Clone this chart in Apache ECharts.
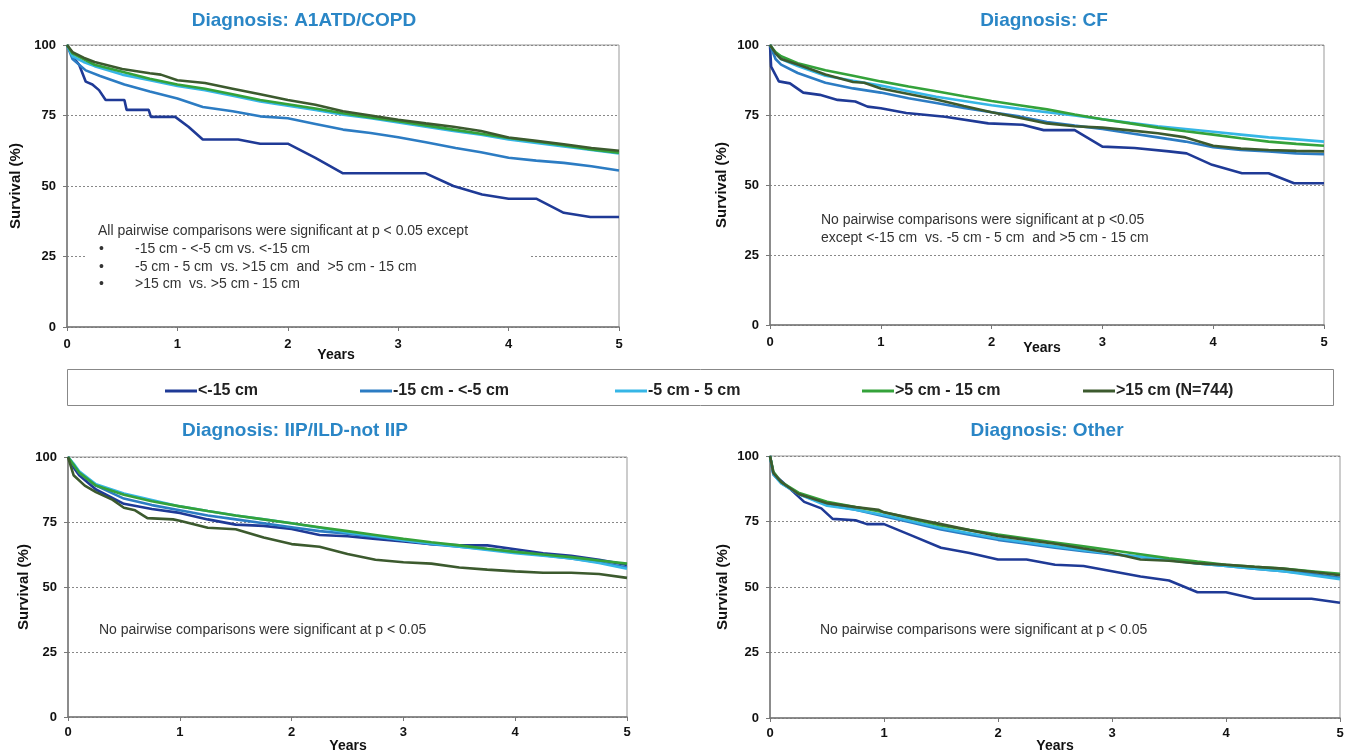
<!DOCTYPE html>
<html>
<head>
<meta charset="utf-8">
<script src="https://cdn.jsdelivr.net/npm/echarts@6/dist/echarts.min.js"></script>
<style>
  html, body { margin: 0; padding: 0; background: #fff; }
  #chart { width: 1353px; height: 756px; }
</style>
</head>
<body>
<div id="chart"></div>
<script>
// group names (legend order)
const groups = ['<-15 cm', '-15 cm - <-5 cm', '-5 cm - 5 cm', '>5 cm - 15 cm', '>15 cm (N=744)'];
const colors = ['#1f3a96', '#2c7cc3', '#36b6e6', '#34a23a', '#3c5a2e'];
const panelTitles = ['Diagnosis: A1ATD/COPD', 'Diagnosis: CF', 'Diagnosis: IIP/ILD-not IIP', 'Diagnosis: Other'];

// survival (%) by years
// A1ATD/COPD
const copdLt15 = [[0,100],[0.05,96],[0.11,93],[0.17,87],[0.23,86],[0.29,84],[0.35,80.5],[0.52,80.5],[0.54,77],[0.74,77],[0.76,74.5],[0.98,74.5],[1.1,71],[1.23,66.5],[1.55,66.5],[1.75,65],[2.0,65],[2.25,60],[2.5,54.5],[3.25,54.5],[3.5,50],[3.76,47],[4.0,45.5],[4.25,45.5],[4.5,40.5],[4.74,39],[5,39]];
const copdLt5 = [[0,100],[0.05,95],[0.17,91],[0.3,89],[0.52,86],[0.75,83.5],[1.0,81],[1.23,78],[1.5,76.5],[1.75,74.7],[2.0,74],[2.25,72],[2.5,70],[2.75,68.8],[3.0,67.3],[3.25,65.5],[3.52,63.5],[3.75,62],[4.0,60],[4.25,59],[4.5,58.2],[4.75,57],[5.0,55.5]];
const copdMid = [[0,100],[0.05,96],[0.15,94],[0.25,92.5],[0.5,89.5],[0.75,87.5],[1.0,85.5],[1.25,84],[1.5,82],[1.75,80],[2.0,78.5],[2.25,77],[2.5,75.3],[2.75,74],[3.0,72.5],[3.25,71],[3.5,69.5],[3.75,68.2],[4.0,66.5],[4.25,65.3],[4.5,64],[4.75,62.8],[5.0,61.5]];
const copdGt5 = [[0,100],[0.05,97],[0.15,95],[0.25,93],[0.5,90.5],[0.75,88],[1.0,86],[1.25,84.5],[1.5,82.5],[1.75,80.5],[2.0,79],[2.25,77.5],[2.5,75.8],[2.75,74.3],[3.0,73],[3.25,71.5],[3.5,70],[3.75,68.5],[4.0,67],[4.25,65.8],[4.5,64.5],[4.75,63],[5.0,61.8]];
const copdGt15 = [[0,100],[0.05,97.5],[0.15,95.5],[0.25,94],[0.5,91.5],[0.75,90],[0.85,89.5],[1.0,87.5],[1.25,86.5],[1.5,84.5],[1.75,82.5],[2.0,80.5],[2.25,78.8],[2.5,76.5],[2.75,75],[3.0,73.5],[3.25,72.2],[3.5,71],[3.75,69.5],[4.0,67.2],[4.25,66],[4.5,64.8],[4.75,63.5],[5.0,62.5]];

// CF
const cfLt15 = [[0,100],[0.01,92.3],[0.08,87],[0.18,86.3],[0.3,83],[0.45,82.2],[0.61,80.4],[0.77,79.8],[0.88,78],[1.0,77.4],[1.23,75.7],[1.58,74.4],[1.97,72],[2.28,71.5],[2.47,69.6],[2.75,69.6],[3.0,63.7],[3.29,63.2],[3.6,62],[3.76,61.3],[3.99,57.2],[4.26,54.2],[4.5,54.2],[4.73,50.6],[5,50.6]];
const cfLt5 = [[0,100],[0.05,95],[0.1,93],[0.25,90],[0.5,86.5],[0.75,84.5],[1.0,83],[1.25,81],[1.5,79.3],[1.75,77.5],[2.0,76],[2.25,74.5],[2.5,72.5],[2.75,71.2],[3.0,70],[3.25,68.5],[3.5,67],[3.75,65.5],[4.0,63.5],[4.25,62.5],[4.5,62],[4.75,61.3],[5.0,61]];
const cfMid = [[0,100],[0.05,97],[0.1,95],[0.25,92.5],[0.5,89],[0.75,87.2],[1.0,85.5],[1.25,83.5],[1.5,81.5],[1.75,80],[2.0,78.5],[2.25,77.2],[2.5,76],[2.75,74.8],[3.0,73.5],[3.25,72.2],[3.5,71],[3.75,70],[4.0,69],[4.25,68],[4.5,67],[4.75,66.3],[5.0,65.5]];
const cfGt5 = [[0,100],[0.05,97.5],[0.1,96],[0.25,93.5],[0.5,91],[0.75,89],[1.0,87],[1.25,85.2],[1.5,83.5],[1.75,81.7],[2.0,80],[2.25,78.5],[2.5,77],[2.75,75.2],[3.0,73.5],[3.25,72],[3.5,70.5],[3.75,69.2],[4.0,68],[4.25,66.7],[4.5,65.5],[4.75,64.7],[5.0,64]];
const cfGt15 = [[0,100],[0.05,97],[0.1,95],[0.25,93],[0.5,89.5],[0.75,86.8],[0.85,86.5],[1.0,84.5],[1.25,82.5],[1.5,80.5],[1.75,78.2],[2.0,76],[2.25,74],[2.5,72],[2.75,71],[3.0,70.5],[3.25,69.5],[3.5,68.5],[3.75,67],[4.0,64],[4.25,63],[4.5,62.5],[4.75,62.2],[5.0,62]];

// IIP/ILD-not IIP
const iipLt15 = [[0,100],[0.05,96],[0.1,93],[0.25,87.5],[0.5,82],[0.75,80],[1.0,78.5],[1.25,76],[1.5,74],[1.75,73.5],[2.0,72.3],[2.25,70],[2.5,69.5],[2.75,68.5],[3.0,67.5],[3.25,66.5],[3.5,66],[3.75,66],[4.0,64.5],[4.25,63],[4.5,62],[4.75,60.5],[5.0,58.5]];
const iipLt5 = [[0,100],[0.05,97],[0.1,94],[0.25,89],[0.5,84],[0.75,81.5],[1.0,79.5],[1.25,77.5],[1.5,76],[1.75,74.5],[2.0,73],[2.25,71.5],[2.5,70.5],[2.75,69.2],[3.0,68],[3.25,66.5],[3.5,65.5],[3.75,64.5],[4.0,63.5],[4.25,62.2],[4.5,61],[4.75,59.5],[5.0,57.5]];
const iipMid = [[0,100],[0.05,97.5],[0.1,94.5],[0.25,89.5],[0.5,86],[0.75,83.5],[1.0,81],[1.25,79.2],[1.5,77.5],[1.75,76],[2.0,74.5],[2.25,72.8],[2.5,71],[2.75,69.5],[3.0,68],[3.25,66.7],[3.5,65.5],[3.75,64.2],[4.0,63],[4.25,62],[4.5,61],[4.75,59.2],[5.0,57]];
const iipGt5 = [[0,100],[0.05,97],[0.1,94],[0.25,89],[0.5,85.5],[0.75,83],[1.0,81],[1.25,79.2],[1.5,77.5],[1.75,76],[2.0,74.5],[2.25,73],[2.5,71.5],[2.75,70],[3.0,68.5],[3.25,67.2],[3.5,66],[3.75,64.7],[4.0,63.5],[4.25,62.5],[4.5,61.5],[4.75,60.2],[5.0,59]];
const iipGt15 = [[0,100],[0.05,93],[0.15,89],[0.25,86.5],[0.4,83.5],[0.5,80.5],[0.6,79.5],[0.71,76.5],[0.94,76],[1.0,75.5],[1.25,72.8],[1.5,72.2],[1.75,69],[2.0,66.5],[2.25,65.5],[2.5,62.7],[2.75,60.5],[3.0,59.5],[3.25,59],[3.5,57.5],[3.75,56.7],[4.0,56],[4.25,55.5],[4.5,55.5],[4.75,55],[5.0,53.5]];

// Other
const othLt15 = [[0,100],[0.03,93],[0.1,90.5],[0.2,86.5],[0.3,82.5],[0.45,80],[0.55,76],[0.75,75.5],[0.85,74],[1.0,74],[1.25,69.5],[1.5,65],[1.75,63],[2.0,60.5],[2.25,60.5],[2.5,58.5],[2.75,58],[3.0,56],[3.25,54],[3.5,52.5],[3.75,48],[4.0,48],[4.25,45.5],[4.75,45.5],[5.0,44]];
const othLt5 = [[0,100],[0.03,93],[0.1,89.5],[0.25,85.5],[0.5,81.5],[0.75,79.5],[1.0,77],[1.25,74.5],[1.5,72],[1.75,70],[2.0,68],[2.25,66.5],[2.5,65],[2.75,63.7],[3.0,62.5],[3.25,61.5],[3.5,60.5],[3.75,59],[4.0,58],[4.25,57],[4.5,56],[4.75,55],[5.0,53.5]];
const othMid = [[0,100],[0.03,93],[0.1,89.5],[0.25,85.5],[0.5,81],[0.75,79.5],[1.0,77.5],[1.25,75],[1.5,72.5],[1.75,70.5],[2.0,68.5],[2.25,67],[2.5,65.5],[2.75,64],[3.0,62.7],[3.25,61.5],[3.5,60.2],[3.75,59],[4.0,58],[4.25,57],[4.5,56],[4.75,54.5],[5.0,53]];
const othGt5 = [[0,100],[0.03,94],[0.1,90],[0.25,86],[0.5,82.5],[0.75,80.5],[1.0,78.5],[1.25,76],[1.5,73.5],[1.75,71.7],[2.0,70],[2.25,68.5],[2.5,67],[2.75,65.5],[3.0,64],[3.25,62.5],[3.5,61],[3.75,59.7],[4.0,58.5],[4.25,57.7],[4.5,57],[4.75,56],[5.0,55]];
const othGt15 = [[0,100],[0.03,93.5],[0.1,90],[0.25,85.5],[0.5,82],[0.75,80.5],[0.95,79.5],[1.0,78.5],[1.25,76.2],[1.5,74],[1.75,71.7],[2.0,69.5],[2.25,68],[2.5,66.5],[2.75,64.7],[3.0,63],[3.25,60.5],[3.5,60],[3.75,59],[4.0,58.5],[4.25,57.7],[4.5,57],[4.75,55.8],[5.0,54.5]];

const panelData = [
  [copdLt15, copdLt5, copdMid, copdGt5, copdGt15],
  [cfLt15, cfLt5, cfMid, cfGt5, cfGt15],
  [iipLt15, iipLt5, iipMid, iipGt5, iipGt15],
  [othLt15, othLt5, othMid, othGt5, othGt15]
];

const chart = echarts.init(document.getElementById('chart'));

const FONT = '"Liberation Sans", Arial, sans-serif';

// plot boxes in pixels
const grids = [
  { left: 67, top: 45, width: 552, height: 282 },
  { left: 770, top: 45, width: 554, height: 280 },
  { left: 68, top: 457, width: 559, height: 260 },
  { left: 770, top: 456, width: 570, height: 262 }
];
const yNameGap = [44, 41, 36, 40];
const xLabelMargin = [11, 11, 9, 9];

const xAxes = grids.map((g, i) => ({
  type: 'value', gridIndex: i, min: 0, max: 5, interval: 1,
  axisLine: { lineStyle: { color: '#777', width: 1.5 } },
  axisTick: { show: true, length: 4, lineStyle: { color: '#777' } },
  axisLabel: { color: '#111', fontWeight: 'bold', fontSize: 13, fontFamily: FONT, margin: xLabelMargin[i] },
  splitLine: { show: false }
}));

const yAxes = grids.map((g, i) => ({
  type: 'value', gridIndex: i, min: 0, max: 100, interval: 25,
  name: 'Survival (%)', nameLocation: 'middle', nameGap: yNameGap[i], nameRotate: 90,
  nameTextStyle: { color: '#111', fontWeight: 'bold', fontSize: 15, fontFamily: FONT },
  axisLine: { show: true, lineStyle: { color: '#777', width: 1.5 } },
  axisTick: { show: true, length: 4, lineStyle: { color: '#777' } },
  axisLabel: { color: '#111', fontWeight: 'bold', fontSize: 13, fontFamily: FONT, margin: 11 },
  splitLine: { show: true, lineStyle: { color: '#888', type: [2, 2], width: 1 } }
}));

const series = [];
panelData.forEach((lines, p) => {
  lines.forEach((d, k) => {
    series.push({
      name: groups[k], type: 'line', xAxisIndex: p, yAxisIndex: p,
      data: d, showSymbol: false, symbol: 'none',
      lineStyle: { color: colors[k], width: 2.6 },
      itemStyle: { color: colors[k] },
      emphasis: { disabled: true }
    });
  });
});

// one legend per item so each sits where it does in the figure
const legendX = [160, 355, 610, 857, 1078];
const legends = groups.map((name, k) => ({
  data: [name], left: legendX[k], top: 378,
  icon: 'rect', itemWidth: 32, itemHeight: 3, itemGap: 0,
  textStyle: { color: '#222', fontWeight: 'bold', fontSize: 16, fontFamily: FONT, padding: [0, 0, 0, -4] }
}));

const titleStyle = { fill: '#2a86c6', font: 'bold 19px ' + FONT, textAlign: 'center', textVerticalAlign: 'middle' };
const noteFont = '14px ' + FONT;
const noteFill = '#333';
function txt(text, x, y, style) {
  return { type: 'text', z: 10, style: Object.assign({ text: text, x: x, y: y }, style) };
}
function note(text, x, y) {
  return txt(text, x, y, { fill: noteFill, font: noteFont, textVerticalAlign: 'middle' });
}
const yearsStyle = { fill: '#111', font: 'bold 14px ' + FONT, textAlign: 'center', textVerticalAlign: 'middle' };

const graphics = [
  txt(panelTitles[0], 304, 21, titleStyle),
  txt(panelTitles[1], 1044, 21, titleStyle),
  txt(panelTitles[2], 295, 431, titleStyle),
  txt(panelTitles[3], 1047, 431, titleStyle),
  txt('Years', 336, 355, yearsStyle),
  txt('Years', 1042, 348, yearsStyle),
  txt('Years', 348, 746, yearsStyle),
  txt('Years', 1055, 746, yearsStyle),
  // legend box
  { type: 'rect', z: 1, shape: { x: 67.5, y: 369.5, width: 1266, height: 36 }, style: { fill: 'none', stroke: '#888', lineWidth: 1 } },
  // white box behind the COPD note
  { type: 'rect', z: 1, shape: { x: 86, y: 222, width: 444, height: 70 }, style: { fill: '#fff' } },
  note('All pairwise comparisons were significant at p < 0.05 except', 98, 231),
  note('\u2022', 99, 249), note('-15 cm - <-5 cm vs. <-15 cm', 135, 249),
  note('\u2022', 99, 267), note('-5 cm - 5 cm  vs. >15 cm  and  >5 cm - 15 cm', 135, 267),
  note('\u2022', 99, 284), note('>15 cm  vs. >5 cm - 15 cm', 135, 284),
  note('No pairwise comparisons were significant at p <0.05', 821, 220),
  note('except <-15 cm  vs. -5 cm - 5 cm  and >5 cm - 15 cm', 821, 238),
  note('No pairwise comparisons were significant at p < 0.05', 99, 630),
  note('No pairwise comparisons were significant at p < 0.05', 820, 630)
];

chart.setOption({
  backgroundColor: '#fff',
  animation: false,
  grid: grids.map(g => Object.assign({ show: true, borderColor: '#999', borderWidth: 1, backgroundColor: 'transparent' }, g)),
  xAxis: xAxes,
  yAxis: yAxes,
  legend: legends,
  series: series,
  graphic: graphics
});
</script>
</body>
</html>
